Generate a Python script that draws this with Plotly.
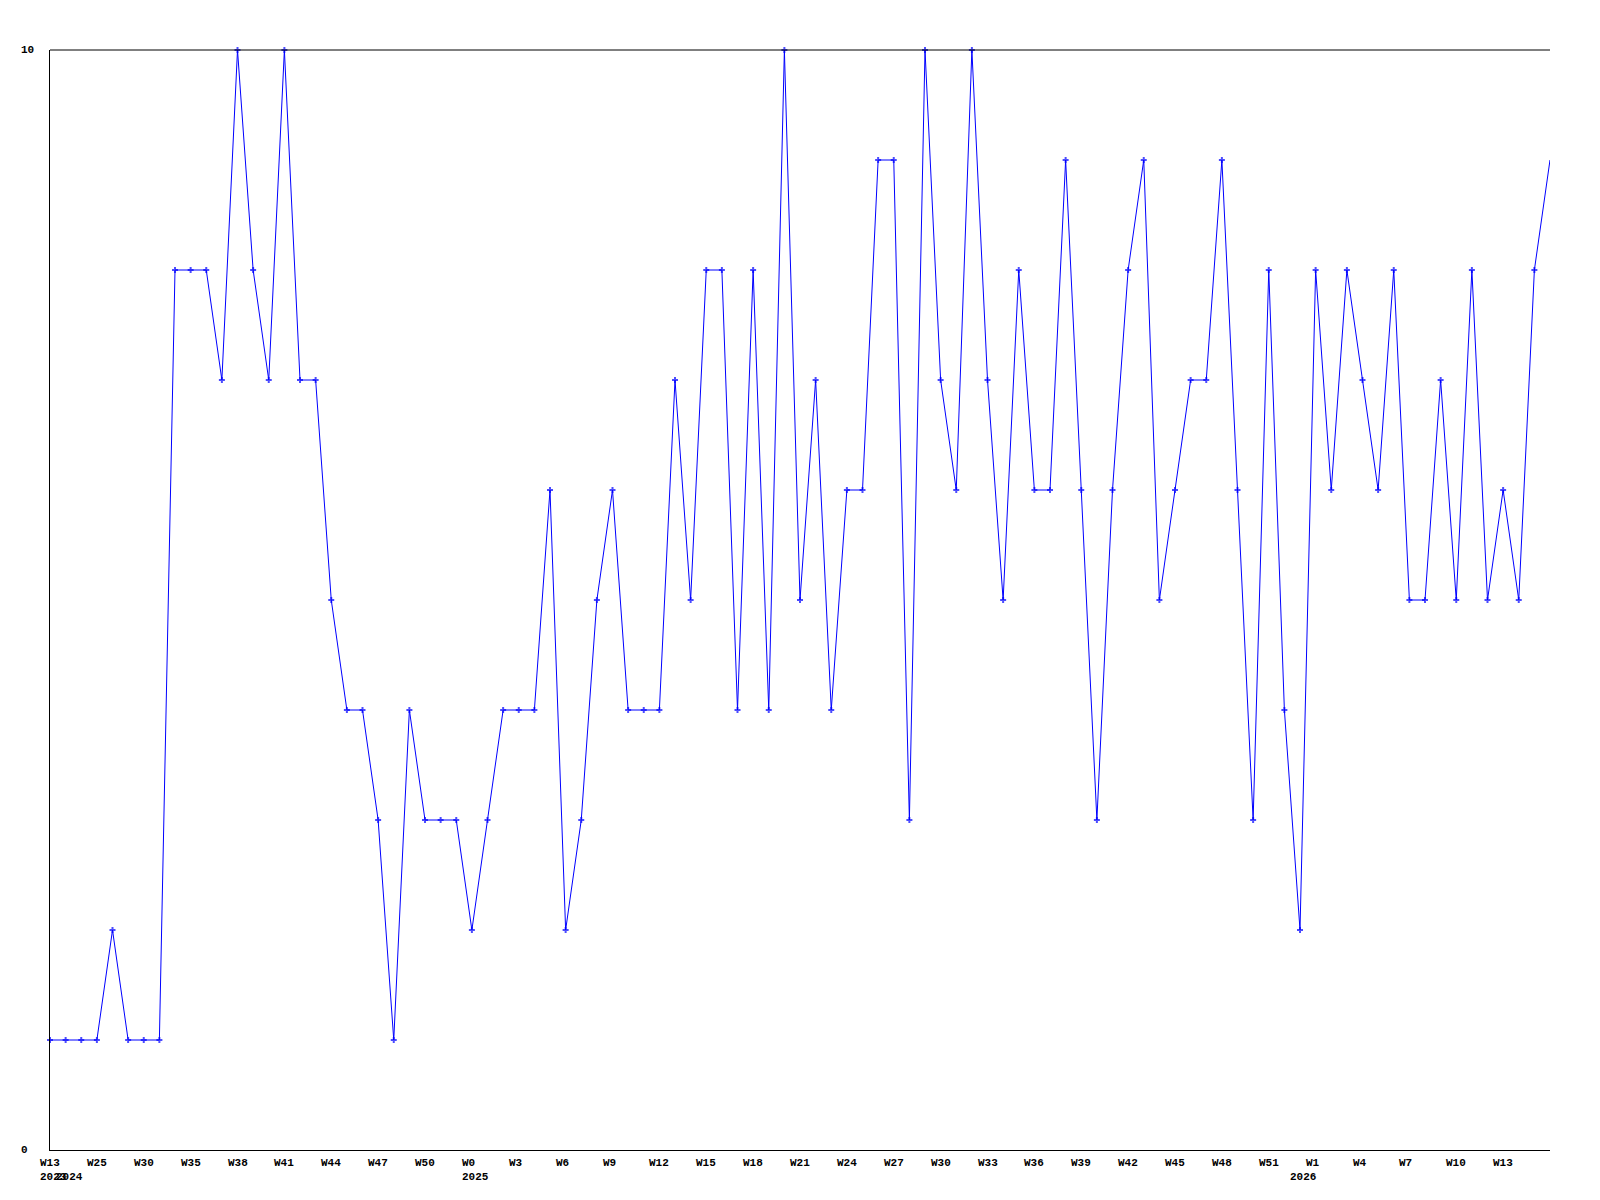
import plotly.graph_objects as go

# Weekly values (one point per week in the series)
values = [1, 1, 1, 1, 2, 1, 1, 1, 8, 8,
          8, 7, 10, 8, 7, 10, 7, 7, 5, 4,
          4, 3, 1, 4, 3, 3, 3, 2, 3, 4,
          4, 4, 6, 2, 3, 5, 6, 4, 4, 4,
          7, 5, 8, 8, 4, 8, 4, 10, 5, 7,
          4, 6, 6, 9, 9, 3, 10, 7, 6, 10,
          7, 5, 8, 6, 6, 9, 6, 3, 6, 8,
          9, 5, 6, 7, 7, 9, 6, 3, 8, 4,
          2, 8, 6, 8, 7, 6, 8, 5, 5, 7,
          5, 8, 5, 6, 5, 8, 9]

# Week tick labels (one every third point) and their point indices
tick_labels = ["W13", "W25", "W30", "W35", "W38", "W41", "W44", "W47", "W50",
               "W0", "W3", "W6", "W9", "W12", "W15", "W18", "W21", "W24",
               "W27", "W30", "W33", "W36", "W39", "W42", "W45", "W48", "W51",
               "W1", "W4", "W7", "W10", "W13"]
tick_index = [3 * i for i in range(len(tick_labels))]

# Year labels and the point where each year starts
year_labels = ["2023", "2024", "2025", "2026"]
year_index = [0, 1, 27, 80]

y_tick_labels = ["0", "10"]
y_tick_values = [0, 10]

x = list(range(len(values)))
font = dict(family="Liberation Mono", size=11, color="black", weight="bold")

fig = go.Figure()
fig.add_trace(go.Scatter(
    x=x, y=values, mode="lines+markers",
    line=dict(color="#0000ff", width=1),
    marker=dict(symbol="cross", color="#0000ff",
                size=[5] * (len(values) - 1) + [0],
                line=dict(width=0)),
    hoverinfo="x+y", showlegend=False, cliponaxis=False,
))

annotations = []
for lab, idx in zip(tick_labels, tick_index):
    annotations.append(dict(x=idx, y=0, xref="x", yref="paper", text=lab,
                            showarrow=False, xanchor="left", yanchor="middle",
                            xshift=-11, yshift=-12.5, font=font, borderpad=0))
for lab, idx in zip(year_labels, year_index):
    annotations.append(dict(x=idx, y=0, xref="x", yref="paper", text=lab,
                            showarrow=False, xanchor="left", yanchor="middle",
                            xshift=-11, yshift=-27, font=font, borderpad=0))
for lab, v in zip(y_tick_labels, y_tick_values):
    annotations.append(dict(x=0, y=v, xref="paper", yref="y", text=lab,
                            showarrow=False, xanchor="left", yanchor="middle",
                            xshift=-30, font=font, borderpad=0))

fig.update_layout(
    width=1592, height=1192,
    margin=dict(l=42, r=50, t=42, b=50),
    paper_bgcolor="white", plot_bgcolor="white",
    xaxis=dict(range=[0, len(values) - 1], showgrid=False, zeroline=False,
               showticklabels=False, ticks="", showline=True,
               linecolor="black", linewidth=1),
    yaxis=dict(range=[0, 10], showgrid=False, zeroline=False,
               showticklabels=False, ticks="", showline=True,
               linecolor="black", linewidth=1),
    annotations=annotations,
    shapes=[dict(type="line", xref="paper", yref="paper", x0=0, x1=1,
                 y0=1, y1=1, line=dict(color="black", width=1))],
)

fig.write_html("out.html")
